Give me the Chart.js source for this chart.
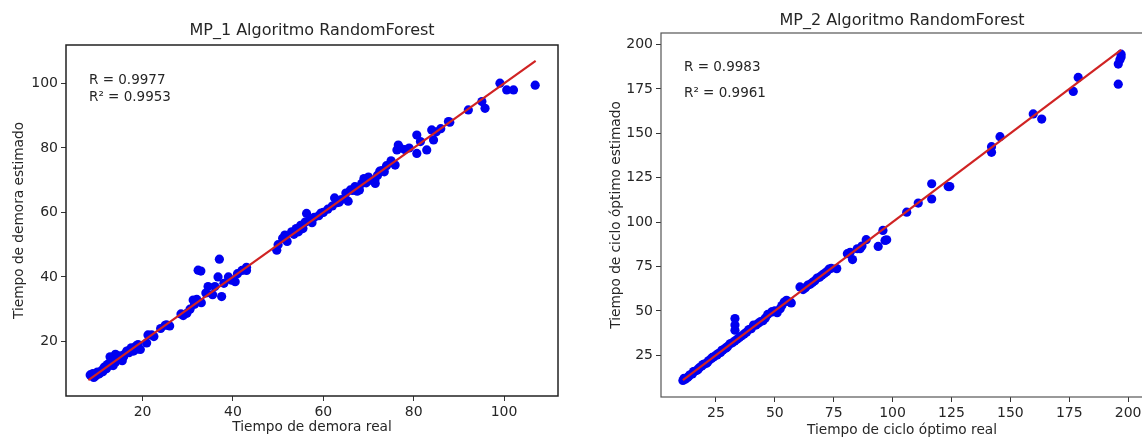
<!DOCTYPE html>
<html>
<head>
<meta charset="utf-8">
<script src="https://cdn.jsdelivr.net/npm/chart.js@4/dist/chart.umd.min.js"></script>
<style>
  html, body { margin: 0; padding: 0; background: #fff; overflow: hidden; }
  #wrap { position: relative; width: 1142px; height: 437px; overflow: hidden; }
  canvas { position: absolute; top: 0; }
</style>
</head>
<body>
<div id="wrap">
  <canvas id="mp1" width="570" height="437" style="left:0"></canvas>
  <canvas id="mp2" width="580" height="437" style="left:570px"></canvas>
</div>
<script>
// MP_1: tiempo de demora real vs estimado
const mp1Real = [8.4, 9, 9.5, 10, 10.5, 11, 11.5, 12, 12.5, 12.8, 13, 13.5, 14, 14, 14.5, 15, 15.5, 16, 16.5, 17, 17.5, 18, 18.5, 19, 19.5,
  9.2, 10.2, 11.2, 12.2, 13.2, 14.8, 15.8, 17.2, 18.8,
  20.9, 21.2, 22, 22.5, 24, 25, 25.3, 26, 28.5, 29, 29.8, 30.5, 31.2, 31.5, 32.3, 32.9, 32, 33, 34, 34.5, 35.5, 36, 36.7, 37.5, 37, 38, 39, 39.7, 40.5, 41, 42, 43, 43,
  49.7, 50, 51, 51.5, 52, 53, 54, 54.5, 55, 56.3, 56, 57, 58, 59, 60, 61, 62, 62.5, 63, 64, 65, 65.5, 66, 67, 68, 68.5, 69, 70, 70.5, 71.4, 71.5, 72, 73, 74, 75, 75.9,
  53.5, 55.5, 57.5, 59.5, 63.5, 66.5, 67.5, 69.5, 72.5, 73.5,
  76.3, 76.6, 77, 78, 79, 80.7, 80.7, 81.5, 82.9, 84.4, 84, 85, 86, 87.7, 88, 92.1, 95.1, 95.8, 99.1, 100.6, 102.1, 106.9];
const mp1Est = [9.6, 10, 9.2, 10.5, 10, 11, 12, 11.5, 13, 15.2, 14, 12.5, 16, 13.5, 14.5, 15.5, 14, 16, 17, 16.5, 18, 17, 18.5, 19, 17.5,
  8.8, 9.8, 10.6, 12.8, 12.6, 15.2, 15.2, 17.4, 17.6,
  19.5, 22, 22, 21.5, 24, 25, 25.1, 24.8, 28.5, 28, 28.7, 30, 32.8, 31.5, 42.1, 41.8, 33, 32, 35, 37, 34.5, 37, 40, 33.9, 45.5, 38, 40, 39, 38.5, 41, 42, 43, 42,
  48.3, 50, 52, 53, 51, 54, 55, 54, 56, 59.7, 57, 57.5, 58.5, 59, 60, 61, 62, 64.5, 63, 64, 66, 63.5, 67, 68, 67, 69, 70.5, 71, 70, 70, 69, 71.5, 73, 74.5, 76, 74.7,
  53.2, 55, 56.8, 59.8, 63.2, 66.8, 66.6, 69.2, 72.8, 72.6,
  79.4, 80.9, 80, 79.5, 80, 84, 78.3, 82, 79.4, 82.5, 85.6, 85, 86, 88.2, 88, 91.8, 94.4, 92.3, 100.1, 98, 98, 99.5];
const mp1Fit = [8, 107];

// MP_2: tiempo de ciclo optimo real vs estimado
const mp2Real = [11, 12, 13, 14, 15, 16, 17, 18, 19, 20, 21, 22, 23, 24, 25, 26, 27, 28, 29, 30, 31, 32, 33.1, 33.1, 33.1, 33, 34, 35, 36, 37, 38, 39, 40, 41, 42, 43, 44, 45,
  11.5, 13.5, 15.5, 17.5, 19.5, 21.5, 23.5, 25.5, 27.5, 29.5,
  46, 47, 48.7, 49, 50, 51, 52.3, 53, 54, 55, 56.5, 57, 60.7, 62, 63, 64, 65, 66, 67, 68, 69, 70, 71, 72, 73, 74, 76.3,
  80.8, 82, 83, 85, 86.2, 87, 88.8, 93.9, 95.9, 96.8, 97.5, 106, 110.9, 116.6, 116.6, 123.6, 124.3, 142, 142, 145.6, 159.7, 163.3, 176.7, 178.8, 195.8, 195.8, 196.5, 197, 197];
const mp2Est = [10.8, 11.5, 12.5, 14, 14.5, 16, 16.5, 18, 19, 20, 20.5, 22, 23, 24, 25, 26, 26.5, 28, 29, 30, 31.5, 32, 45.7, 42, 39.1, 33, 34, 35, 36, 37, 38, 39.5, 40, 42, 42, 43, 44, 44.5,
  12, 13.2, 15.8, 17.2, 19.8, 21.2, 23.8, 25.2, 27.8, 29.2,
  46, 48, 49.4, 49.5, 50, 49, 51.2, 53, 55, 56, 55, 54.5, 63.5, 62, 63, 64.5, 65, 66, 67, 68.5, 69, 70, 71, 72, 73.5, 74, 73.8,
  82.2, 83, 78.9, 85, 85, 86.5, 90.1, 86.3, 95.3, 89.7, 90, 105.6, 110.7, 121.6, 113, 120, 120, 142.5, 139.3, 148.1, 160.9, 158, 173.6, 181.5, 189, 177.7, 191.5, 193, 194.6];
const mp2Fit = [11, 197];

// tick labels
const mp1XTicks = [20, 40, 60, 80, 100];
const mp1YTicks = [20, 40, 60, 80, 100];
const mp2XTicks = [25, 50, 75, 100, 125, 150, 175, 200];
const mp2YTicks = [25, 50, 75, 100, 125, 150, 175, 200];

const FONT = "'DejaVu Sans', 'Liberation Sans', sans-serif";
const TEXT = '#262626';

const toPts = (xs, ys) => xs.map((x, i) => ({ x: x, y: ys[i] }));

// titles, axis labels and R text drawn around the plot area
const textPlugin = {
  id: 'mplText',
  afterDraw(chart, args, o) {
    const ctx = chart.ctx;
    const a = chart.chartArea;
    ctx.save();
    // frame
    ctx.strokeStyle = o.frameColor;
    ctx.lineWidth = o.frameWidth;
    ctx.strokeRect(a.left, a.top, a.right - a.left, a.bottom - a.top);
    ctx.fillStyle = TEXT;
    ctx.textBaseline = 'middle';
    ctx.textAlign = 'center';
    ctx.font = '16px ' + FONT;
    ctx.fillText(o.title, (a.left + a.right) / 2, o.titleY);
    ctx.font = '13.7px ' + FONT;
    ctx.fillText(o.xLabel, (a.left + a.right) / 2, o.xLabelY);
    ctx.save();
    ctx.translate(o.yLabelX, (a.top + a.bottom) / 2);
    ctx.rotate(-Math.PI / 2);
    ctx.fillText(o.yLabel, 0, 0);
    ctx.restore();
    ctx.textAlign = 'left';
    ctx.font = '13.5px ' + FONT;
    o.notes.forEach((n, i) => ctx.fillText(n, o.noteX, o.noteY[i]));
    ctx.restore();
  }
};

function axis(min, max, ticks, size, isX) {
  return {
    type: 'linear',
    min: min,
    max: max,
    border: { display: false },
    grid: { display: true, drawOnChartArea: false, drawTicks: true, tickLength: 5, tickWidth: 1, color: '#333' },
    ticks: { color: TEXT, font: { family: FONT, size: 14 }, padding: isX ? 3 : 3, maxRotation: 0 },
    afterBuildTicks: s => { s.ticks = ticks.map(v => ({ value: v })); },
    afterFit: s => { if (isX) s.height = size; else s.width = size; }
  };
}

function makeChart(id, real, est, fit, rng, xt, yt, box, txt) {
  new Chart(document.getElementById(id), {
    type: 'scatter',
    data: {
      datasets: [
        {
          type: 'line',
          data: toPts(fit, fit),
          borderColor: '#d02323',
          borderWidth: 2.2,
          pointRadius: 0,
          fill: false,
          order: 0
        },
        {
          data: toPts(real, est),
          backgroundColor: '#0000f0',
          borderWidth: 0,
          pointRadius: 4.6,
          order: 1
        }
      ]
    },
    options: {
      responsive: false,
      devicePixelRatio: 1,
      animation: false,
      events: [],
      layout: { padding: { top: box.top, right: box.right, left: 0, bottom: 0 } },
      scales: {
        x: axis(rng.x[0], rng.x[1], xt, box.xh, true),
        y: axis(rng.y[0], rng.y[1], yt, box.yw, false)
      },
      plugins: {
        legend: { display: false },
        tooltip: { enabled: false },
        mplText: txt
      }
    },
    plugins: [textPlugin]
  });
}

makeChart('mp1', mp1Real, mp1Est, mp1Fit,
  { x: [3.05, 111.95], y: [3.05, 111.95] }, mp1XTicks, mp1YTicks,
  { top: 45, right: 12, xh: 41, yw: 66 },
  {
    title: 'MP_1 Algoritmo RandomForest', titleY: 31,
    xLabel: 'Tiempo de demora real', xLabelY: 427,
    yLabel: 'Tiempo de demora estimado', yLabelX: 19,
    notes: ['R = 0.9977', 'R\u00b2 = 0.9953'], noteX: 89, noteY: [80, 97],
    frameColor: '#222', frameWidth: 1.5
  });

makeChart('mp2', mp2Real, mp2Est, mp2Fit,
  { x: [1.7, 206.3], y: [1.5, 206.5] }, mp2XTicks, mp2YTicks,
  { top: 33, right: 7, xh: 40, yw: 91 },
  {
    title: 'MP_2 Algoritmo RandomForest', titleY: 21,
    xLabel: 'Tiempo de ciclo \u00f3ptimo real', xLabelY: 430,
    yLabel: 'Tiempo de ciclo \u00f3ptimo estimado', yLabelX: 46,
    notes: ['R = 0.9983', 'R\u00b2 = 0.9961'], noteX: 114, noteY: [67, 93],
    frameColor: '#555', frameWidth: 1.2
  });
</script>
</body>
</html>
